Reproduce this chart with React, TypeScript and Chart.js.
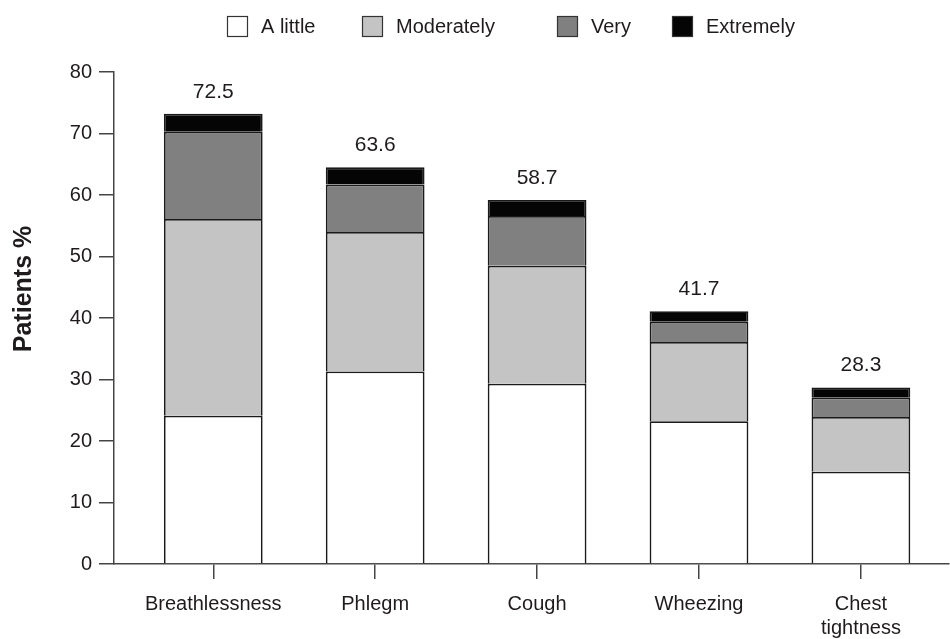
import React, { useEffect, useRef } from 'react';
import { Chart, registerables } from 'chart.js';
Chart.register(...registerables);

const categories: (string | string[])[] = ['Breathlessness', 'Phlegm', 'Cough', 'Wheezing', ['Chest', 'tightness']];
const seriesNames = ['A little', 'Moderately', 'Very', 'Extremely'];
const aLittle = [24.1, 31.3, 29.3, 23.2, 15.0];
const moderately = [32.0, 22.7, 19.2, 12.9, 8.9];
const very = [14.2, 7.7, 8.1, 3.3, 3.2];
const extremely = [2.9, 2.8, 2.6, 1.7, 1.6];
const totals = ['72.5', '63.6', '58.7', '41.7', '28.3'];
const yAxisTitle = 'Patients %';

const FONT = "'Liberation Sans', Arial, Helvetica, sans-serif";
const TEXT = '#1f1b1c';
const AXIS = '#454545';
const colors = ['#ffffff', '#c4c4c4', '#808080', '#050505'];

export default function App() {
  const ref = useRef<HTMLCanvasElement>(null);
  useEffect(() => {
    const canvas = ref.current!;
    const series = [aLittle, moderately, very, extremely];
    const datasets = series.map((vals, k) => ({
      label: seriesNames[k],
      data: vals.map((y, i) => ({ x: i, y })),
      backgroundColor: colors[k],
      borderColor: '#1a1a1a',
      borderWidth: 1.8,
      categoryPercentage: 1,
      barPercentage: 0.61,
      stack: 's',
    }));

    const extras = {
      id: 'extras',
      afterDraw(chart: any) {
        const ctx = chart.ctx;
        ctx.save();
        const topMeta = chart.getDatasetMeta(series.length - 1);
        ctx.fillStyle = TEXT;
        ctx.font = `21px ${FONT}`;
        ctx.textAlign = 'center';
        ctx.textBaseline = 'middle';
        topMeta.data.forEach((el: any, i: number) => {
          ctx.fillText(totals[i], el.x, el.y - 22);
        });
        ctx.save();
        ctx.translate(24, 289);
        ctx.rotate(-Math.PI / 2);
        ctx.font = `bold 25px ${FONT}`;
        ctx.fillText(yAxisTitle, 0, 0);
        ctx.restore();
        const xs = [227, 362, 557, 672];
        ctx.font = `20px ${FONT}`;
        ctx.textAlign = 'left';
        seriesNames.forEach((name, k) => {
          const x = xs[k];
          ctx.fillStyle = colors[k];
          ctx.fillRect(x, 16, 21, 21);
          ctx.strokeStyle = '#333';
          ctx.lineWidth = 1.2;
          ctx.strokeRect(x + 0.5, 16.5, 20, 20);
          ctx.fillStyle = TEXT;
          ctx.fillText(name, x + 34, 27);
        });
        ctx.restore();
      },
    };

    const chart = new Chart(canvas, {
      type: 'bar',
      data: { datasets },
      plugins: [extras],
      options: {
        animation: false,
        responsive: false,
        layout: { padding: { top: 72, right: 1, left: 0, bottom: 0 } },
        plugins: { legend: { display: false }, tooltip: { enabled: false } },
        scales: {
          x: {
            type: 'linear',
            stacked: true,
            offset: false,
            min: -0.613,
            max: 4.544,
            afterBuildTicks: (scale: any) => {
              scale.ticks = categories.map((_, i) => ({ value: i }));
            },
            afterFit: (scale: any) => {
              scale.height = 75;
            },
            grid: { display: true, offset: false, drawOnChartArea: false, drawTicks: true, tickLength: 15, color: AXIS, lineWidth: 1.5 },
            border: { display: true, color: AXIS, width: 1.5 },
            ticks: {
              autoSkip: false,
              maxRotation: 0,
              padding: 13,
              color: TEXT,
              font: { family: FONT, size: 20, lineHeight: 1.2 },
              callback: (v: any) => categories[v as number] ?? '',
            },
          },
          y: {
            stacked: true,
            min: 0,
            max: 80,
            afterFit: (scale: any) => {
              scale.width = 114;
            },
            grid: { display: true, drawOnChartArea: false, drawTicks: true, tickLength: 15, color: AXIS, lineWidth: 1.5 },
            border: { display: true, color: AXIS, width: 1.5 },
            ticks: { stepSize: 10, padding: 7, color: TEXT, font: { family: FONT, size: 20 } },
          },
        },
      },
    });
    return () => chart.destroy();
  }, []);
  return (
    <div style={{ position: 'fixed', left: 0, top: 0, width: 950, height: 639, background: '#fff' }}>
      <canvas ref={ref} width={950} height={639} style={{ display: 'block' }} />
    </div>
  );
}
